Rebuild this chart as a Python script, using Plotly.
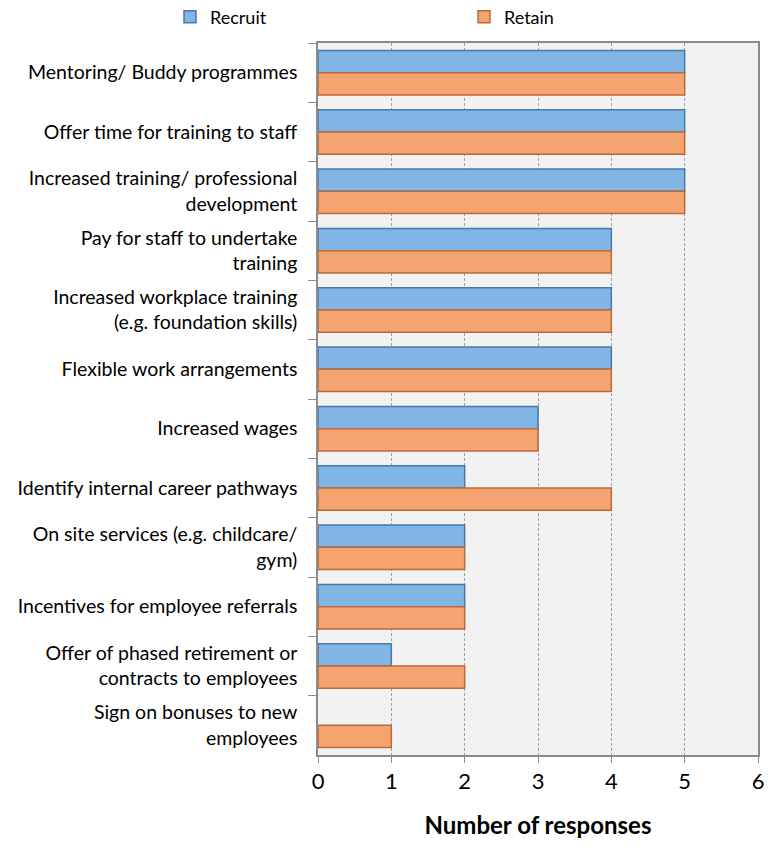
import plotly.graph_objects as go

categories = [
    "Mentoring/ Buddy programmes",
    "Offer time for training to staff",
    "Increased training/ professional<br>development",
    "Pay for staff to undertake<br>training",
    "Increased workplace training<br>(e.g. foundation skills)",
    "Flexible work arrangements",
    "Increased wages",
    "Identify internal career pathways",
    "On site services (e.g. childcare/<br>gym)",
    "Incentives for employee referrals",
    "Offer of phased retirement or<br>contracts to employees",
    "Sign on bonuses to new<br>employees",
]
recruit = [5, 5, 5, 4, 4, 4, 3, 2, 2, 2, 1, 0]
retain = [5, 5, 5, 4, 4, 4, 3, 4, 2, 2, 2, 1]

FONT = "Lato, Open Sans, sans-serif"


def edge_widths(vals):
    return [1.5 if v > 0 else 0 for v in vals]


fig = go.Figure()
fig.add_trace(go.Bar(
    y=categories, x=recruit, name="Recruit", orientation="h",
    marker=dict(color="#80b5e6", line=dict(color="#4a79a8", width=edge_widths(recruit))),
    legend="legend",
))
fig.add_trace(go.Bar(
    y=categories, x=retain, name="Retain", orientation="h",
    marker=dict(color="#f6a46f", line=dict(color="#b86a3c", width=edge_widths(retain))),
    legend="legend2",
))

leg_common = dict(orientation="h", yref="container", y=1 - 17 / 848, yanchor="middle",
                  xref="container", xanchor="left", font=dict(size=18, family=FONT),
                  itemwidth=30, bgcolor="rgba(0,0,0,0)")
fig.update_layout(
    width=768, height=848,
    margin=dict(l=318, r=10, t=43, b=93, autoexpand=False),
    barmode="group", bargap=0.25, bargroupgap=0.0,
    plot_bgcolor="#f2f2f2", paper_bgcolor="white",
    font=dict(family=FONT, color="black"),
    legend=dict(x=170 / 768, **leg_common),
    legend2=dict(x=464 / 768, **leg_common),
    showlegend=True,
)
fig.update_xaxes(
    range=[0, 6], dtick=1, showgrid=True, gridcolor="#a0a0a0", griddash="3px,2px",
    gridwidth=1, tickfont=dict(size=22), ticks="outside", ticklen=6,
    tickcolor="#8c8c8c", showline=True, linecolor="#8c8c8c", linewidth=2, mirror=True,
    title=dict(text="<b>Number of responses</b>", font=dict(size=24), standoff=24),
    zeroline=False, automargin=False,
)
fig.update_yaxes(
    autorange="reversed", tickson="boundaries", ticks="outside", ticklen=8,
    tickcolor="#8c8c8c", showline=True, linecolor="#8c8c8c", linewidth=1.5, mirror=True,
    tickfont=dict(size=19.5), showgrid=False, ticklabelstandoff=15, automargin=False,
)

fig.write_html("out.html", config={"displayModeBar": False},
               post_script="document.body.style.margin='0';")
